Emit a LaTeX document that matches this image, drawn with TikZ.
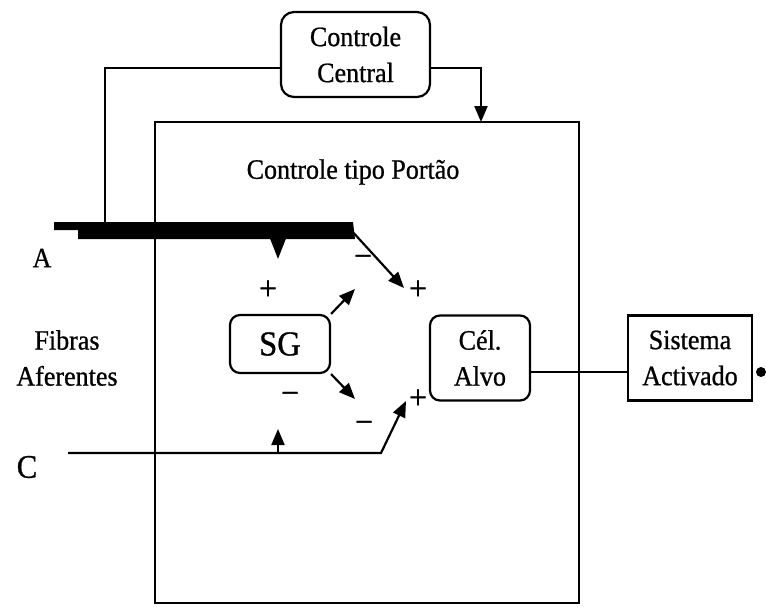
\documentclass[tikz,border=0pt]{standalone}
\usepackage{fontspec}
\setmainfont{Liberation Serif}[FakeStretch=0.93,FakeBold=0.8]
\usetikzlibrary{arrows.meta}
\begin{document}
\begin{tikzpicture}[x=1pt,y=-1pt,
  txt/.style={font=\fontsize{28}{36}\selectfont,inner sep=0pt,align=center},
  ln/.style={line width=2.2pt},
  arr/.style={ln,-{Triangle[length=16pt,width=13pt]}},
  rbox/.style={draw,ln,rounded corners=10pt,inner sep=0pt,align=center,font=\fontsize{28}{36}\selectfont},
  sbox/.style={draw,ln,inner sep=0pt,align=center,font=\fontsize{28}{36}\selectfont},
  sign/.style={font=\fontsize{34}{36}\selectfont,inner sep=0pt}]
\useasboundingbox (0,0) rectangle (766,608);
% boxes
\node[sbox,minimum width=424pt,minimum height=481pt] (gate) at (367,362.5) {};
\node[rbox,rounded corners=13pt,minimum width=149pt,minimum height=85pt] (cc) at (355.5,54.5) {Controle\\Central};
\node[rbox,minimum width=100pt,minimum height=58pt,font=\fontsize{35}{40}\selectfont] (sg) at (280,344) {SG};
\node[rbox,minimum width=100pt,minimum height=85pt] (alvo) at (480,358) {Cél.\\Alvo};
\node[sbox,minimum width=124pt,minimum height=85pt] (sist) at (690,358) {Sistema\\Activado};
% labels
\node[txt] (title) at (353,172) {Controle tipo Portão};
\node[txt] (lA) at (42,258) {A};
\node[txt] (lfib) at (67,358) {Fibras\\Aferentes};
\node[txt,font=\fontsize{33}{36}\selectfont] (lC) at (27,467) {C};
\node[sign] (p1) at (268,290) {+};
\node[sign] (m1) at (363,261) {\textminus};
\node[sign] (p2) at (418,290) {+};
\node[sign] (m2) at (290,398) {\textminus};
\node[sign] (p3) at (418,399) {+};
\node[sign] (m3) at (364,427) {\textminus};
% A fibre bar
\fill (54,222) -- (353,222) -- (355,239) -- (78,239) -- (78,230) -- (54,230) -- cycle;
\coordinate (abarL) at (105,223);
\coordinate (abarR) at (350,229);
\coordinate (abarB) at (278,236);
\coordinate (abarT) at (278,259);
\coordinate (aTip) at (404,288);
% central control connections
\coordinate (ccL) at (105,68);
\coordinate (ccR) at (481,68);
\coordinate (gateT) at (481,122);
\draw[ln] (cc.west |- ccL) -- (ccL) -- (abarL);
\draw[arr] (cc.east |- ccR) -- (ccR) -- (gateT);
% A arrows
\draw[arr,-{Triangle[length=20pt,width=15pt]}] (abarB) -- (abarT);
\draw[arr] (abarR) -- (aTip);
% SG arrows
\coordinate (sgT) at (355,289);
\coordinate (sgB) at (355,399);
\draw[arr] (sg.north east) -- (sgT);
\draw[arr] (sg.south east) -- (sgB);
% C fibre
\coordinate (cL) at (68,453);
\coordinate (cK) at (381,453);
\coordinate (cTip) at (406,401);
\coordinate (cB) at (278,453);
\coordinate (cU) at (278,429);
\draw[arr] (cL) -- (cK) -- (cTip);
\draw[arr] (cB) -- (cU);
% output
\coordinate (outy) at (0,372);
\draw[ln] (alvo.east |- outy) -- (sist.west |- outy);
\coordinate (dot) at (761,372);
\fill (dot) circle (5pt);
\end{tikzpicture}
\end{document}
